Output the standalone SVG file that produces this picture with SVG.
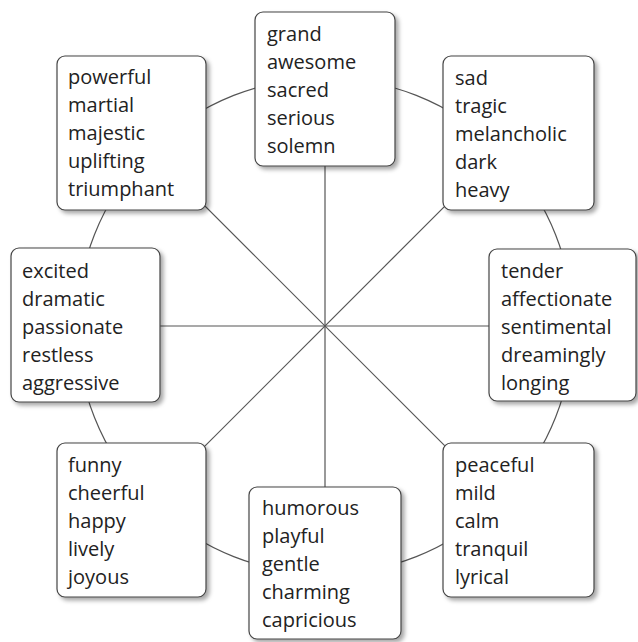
<svg xmlns="http://www.w3.org/2000/svg" width="638" height="642" viewBox="0 0 638 642">
<defs>
<filter id="sh" x="-10%" y="-10%" width="125%" height="125%">
<feDropShadow dx="3" dy="3" stdDeviation="2" flood-color="#000" flood-opacity="0.35"/>
</filter>
<style>
.ln{stroke:#555;stroke-width:1.2;fill:none}
.bx{fill:#fff;stroke:#444;stroke-width:1.2;filter:url(#sh)}
.t{font-family:"Open Sans","Noto Sans",sans-serif;font-size:20px;fill:#222}
</style>
</defs>
<rect width="638" height="642" fill="#fff"/>
<g id="connectors">
<circle class="ln" cx="325" cy="326" r="248"/>
<line class="ln" x1="325" y1="78" x2="325" y2="574"/>
<line class="ln" x1="77" y1="326" x2="573" y2="326"/>
<line class="ln" x1="149.6" y1="150.6" x2="500.4" y2="501.4"/>
<line class="ln" x1="500.4" y1="150.6" x2="149.6" y2="501.4"/>
</g>
<g id="grand">
<rect class="bx" x="255" y="12" width="140" height="154" rx="8"/>
<text class="t" x="267" y="41"><tspan x="267">grand</tspan><tspan x="267" dy="28">awesome</tspan><tspan x="267" dy="28">sacred</tspan><tspan x="267" dy="28">serious</tspan><tspan x="267" dy="28">solemn</tspan></text>
</g>
<g id="sad">
<rect class="bx" x="443" y="56" width="151" height="154" rx="8"/>
<text class="t" x="455" y="85"><tspan x="455">sad</tspan><tspan x="455" dy="28">tragic</tspan><tspan x="455" dy="28">melancholic</tspan><tspan x="455" dy="28">dark</tspan><tspan x="455" dy="28">heavy</tspan></text>
</g>
<g id="tender">
<rect class="bx" x="489" y="249" width="147" height="152" rx="8"/>
<text class="t" x="501" y="278"><tspan x="501">tender</tspan><tspan x="501" dy="28">affectionate</tspan><tspan x="501" dy="28">sentimental</tspan><tspan x="501" dy="28">dreamingly</tspan><tspan x="501" dy="28">longing</tspan></text>
</g>
<g id="peaceful">
<rect class="bx" x="443" y="443" width="151" height="154" rx="8"/>
<text class="t" x="455" y="472"><tspan x="455">peaceful</tspan><tspan x="455" dy="28">mild</tspan><tspan x="455" dy="28">calm</tspan><tspan x="455" dy="28">tranquil</tspan><tspan x="455" dy="28">lyrical</tspan></text>
</g>
<g id="humorous">
<rect class="bx" x="249" y="487" width="152" height="152" rx="8"/>
<text class="t" x="262" y="515"><tspan x="262">humorous</tspan><tspan x="262" dy="28">playful</tspan><tspan x="262" dy="28">gentle</tspan><tspan x="262" dy="28">charming</tspan><tspan x="262" dy="28">capricious</tspan></text>
</g>
<g id="funny">
<rect class="bx" x="57" y="443" width="149" height="154" rx="8"/>
<text class="t" x="68" y="472"><tspan x="68">funny</tspan><tspan x="68" dy="28">cheerful</tspan><tspan x="68" dy="28">happy</tspan><tspan x="68" dy="28">lively</tspan><tspan x="68" dy="28">joyous</tspan></text>
</g>
<g id="excited">
<rect class="bx" x="11" y="248" width="149" height="154" rx="8"/>
<text class="t" x="22" y="278"><tspan x="22">excited</tspan><tspan x="22" dy="28">dramatic</tspan><tspan x="22" dy="28">passionate</tspan><tspan x="22" dy="28">restless</tspan><tspan x="22" dy="28">aggressive</tspan></text>
</g>
<g id="powerful">
<rect class="bx" x="57" y="56" width="149" height="154" rx="8"/>
<text class="t" x="68" y="84"><tspan x="68">powerful</tspan><tspan x="68" dy="28">martial</tspan><tspan x="68" dy="28">majestic</tspan><tspan x="68" dy="28">uplifting</tspan><tspan x="68" dy="28">triumphant</tspan></text>
</g>
</svg>
